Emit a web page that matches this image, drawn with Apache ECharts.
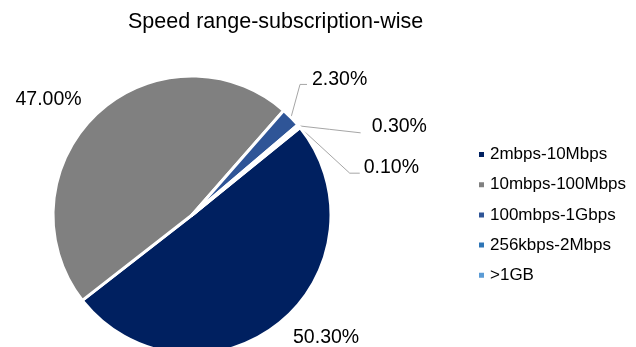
<!DOCTYPE html>
<html>
<head>
<meta charset="utf-8">
<script src="https://cdn.jsdelivr.net/npm/echarts@6/dist/echarts.min.js"></script>
<style>
html,body{margin:0;padding:0;background:#fff;}
#c{width:636px;height:347px;}
</style>
</head>
<body>
<div id="c"></div>
<script>
var categories = ['2mbps-10Mbps', '10mbps-100Mbps', '100mbps-1Gbps', '256kbps-2Mbps', '>1GB'];
var shares = [50.3, 47.0, 2.3, 0.3, 0.1];
var colors = ['#002060', '#808080', '#2F5597', '#2E75B6', '#5B9BD5'];
var titleText = 'Speed range-subscription-wise';

var FONT = '"Liberation Sans", Arial, sans-serif';

// label tweaks (offsets from the library's computed anchor on the slice edge)
var labelTweaks = {
  2: {line: [[9, -33], [16, -33]], text: [21, -38]},
  3: {line: [[31, 3.5], [62, 7]], text: [73, 1]},
  4: {line: [[50, 46], [60, 46]], text: [64, 40]}
};

var data = categories.map(function (name, i) {
  var item = {name: name, value: shares[i], itemStyle: {color: colors[i]}};
  if (i === 0) {
    item.label = {distanceToLabelLine: 4};
    item.labelLine = {show: false, length: 17, length2: 0};
  } else if (i === 1) {
    item.label = {distanceToLabelLine: 2};
    item.labelLine = {show: false, length: 19, length2: 0};
  } else {
    item.labelLine = {show: true, length: 20, length2: 10};
  }
  return item;
});

var chart = echarts.init(document.getElementById('c'), null, {renderer: 'canvas'});
chart.setOption({
  animation: false,
  backgroundColor: '#ffffff',
  title: {
    text: titleText,
    left: 123,
    top: 6,
    textStyle: {fontFamily: FONT, fontSize: 21.5, fontWeight: 'normal', color: '#000'}
  },
  legend: {
    orient: 'vertical',
    left: 472,
    top: 141,
    itemWidth: 7,
    itemHeight: 7,
    itemGap: 13.2,
    icon: 'rect',
    data: categories,
    textStyle: {fontFamily: FONT, fontSize: 17, color: '#000', lineHeight: 17}
  },
  series: [{
    type: 'pie',
    center: [192, 215],
    radius: 139,
    startAngle: 39,
    clockwise: true,
    avoidLabelOverlap: false,
    silent: true,
    itemStyle: {borderColor: '#ffffff', borderWidth: 3},
    label: {
      show: true,
      position: 'outside',
      formatter: function (p) { return p.value.toFixed(2) + '%'; },
      fontFamily: FONT,
      fontSize: 19.5,
      color: '#000'
    },
    labelLine: {lineStyle: {color: '#A6A6A6', width: 1}},
    labelLayout: function (p) {
      var t = labelTweaks[p.dataIndex];
      if (!t || !p.labelLinePoints) return {};
      var a = p.labelLinePoints[0];
      return {
        x: a[0] + t.text[0],
        y: a[1] + t.text[1],
        align: 'left',
        verticalAlign: 'middle',
        labelLinePoints: [
          [a[0], a[1]],
          [a[0] + t.line[0][0], a[1] + t.line[0][1]],
          [a[0] + t.line[1][0], a[1] + t.line[1][1]]
        ]
      };
    },
    data: data
  }]
});
</script>
</body>
</html>
